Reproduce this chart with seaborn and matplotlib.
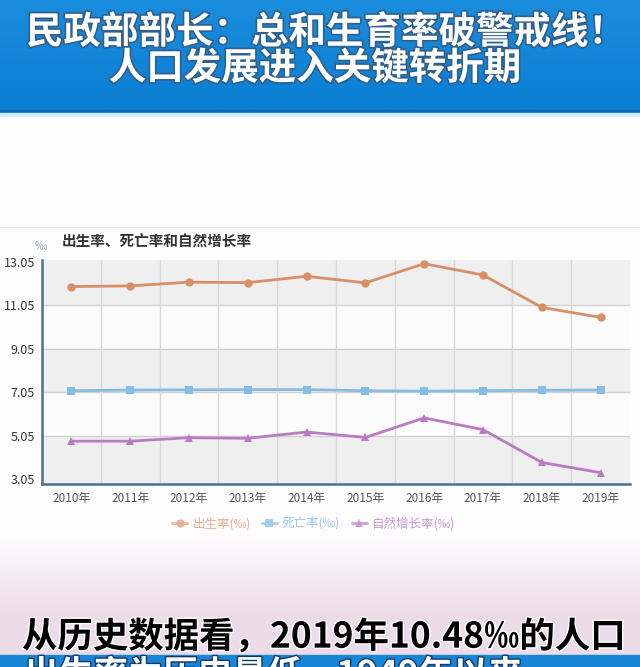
import numpy as np
import pandas as pd
import matplotlib
matplotlib.use("Agg")
import matplotlib.pyplot as plt
import seaborn as sns
from matplotlib import patheffects as pe
from matplotlib.colors import to_rgb

# ---------------- data ----------------
years = ["2010年", "2011年", "2012年", "2013年", "2014年",
         "2015年", "2016年", "2017年", "2018年", "2019年"]
birth_rate = [11.90, 11.93, 12.10, 12.08, 12.37, 12.07, 12.95, 12.43, 10.94, 10.48]
death_rate = [7.11, 7.14, 7.15, 7.16, 7.16, 7.11, 7.09, 7.11, 7.13, 7.14]
growth_rate = [4.79, 4.79, 4.95, 4.92, 5.21, 4.96, 5.86, 5.32, 3.81, 3.34]
series_names = ["出生率(‰)", "死亡率(‰)", "自然增长率(‰)"]
y_ticks = [3.05, 5.05, 7.05, 9.05, 11.05, 13.05]

header_line1 = "民政部部长：总和生育率破警戒线！"
header_line2 = "人口发展进入关键转折期"
chart_title = "出生率、死亡率和自然增长率"
unit_label = "‰"
caption = "从历史数据看，2019年10.48‰的人口"
caption2 = "出生率为历史最低，1949年以来"

sns.set_theme(style="white")
plt.rcParams["font.family"] = ["Noto Sans CJK SC", "DejaVu Sans"]

W, H = 640, 667
fig = plt.figure(figsize=(W / 100, H / 100), dpi=100)

def fy(py):
    return 1 - py / H

def fx(px):
    return px / W

# ---------------- background ----------------
bg = fig.add_axes([0, 0, 1, 1])
bg.set_xlim(0, W)
bg.set_ylim(H, 0)
bg.axis("off")
bg.set_zorder(-10)

bg.add_patch(plt.Rectangle((0, 0), W, H, color="#fefdfe", zorder=0))
top_c = np.array(to_rgb("#fefcfe"))
bot_c = np.array(to_rgb("#ecdce8"))
n = 200
t = np.clip(np.linspace(0, 1, n) * 1.5, 0, 1)[:, None]
grad = (top_c * (1 - t) + bot_c * t)[:, None, :]
bg.imshow(grad, extent=(0, W, 660, 535), aspect="auto", zorder=1, interpolation="bilinear")
h_top = np.array(to_rgb("#1a8ddd"))
h_bot = np.array(to_rgb("#0a7ed2"))
t2 = np.linspace(0, 1, 100)[:, None]
hgrad = (h_top * (1 - t2) + h_bot * t2)[:, None, :]
bg.imshow(hgrad, extent=(0, W, 110, 0), aspect="auto", zorder=2, interpolation="bilinear")
bg.add_patch(plt.Rectangle((0, 110), W, 3, color="#0b68b0", zorder=3))
bg.add_patch(plt.Rectangle((0, 113), W, 3, color="#c9eefa", zorder=3))
bg.plot([0, W], [227, 227], color="#e4e4e4", lw=1, zorder=3)
bg.add_patch(plt.Rectangle((0, 655), W, 12, color="#1786d6", zorder=3))

white_fx = [pe.withStroke(linewidth=2.4, foreground="#2f5f8c")]
bg.text(W / 2 + 6, 32, header_line1, color="white", fontsize=27, fontweight="bold",
        ha="center", va="center", path_effects=white_fx, zorder=5)
bg.text(W / 2 - 5, 68, header_line2, color="white", fontsize=27, fontweight="bold",
        ha="center", va="center", path_effects=white_fx, zorder=5)

bg.text(22, 637, caption, color="black", fontsize=25.5, fontweight="bold",
        ha="left", va="center", path_effects=[pe.withStroke(linewidth=2, foreground="white")],
        zorder=5)
bg.text(24, 675, caption2, color="white", fontsize=25, fontweight="bold",
        ha="left", va="center", path_effects=[pe.withStroke(linewidth=2, foreground="#123a66")],
        zorder=4)

bg.text(62, 242, chart_title, color="#333333", fontsize=10.5, fontweight="bold",
        ha="left", va="center", zorder=5)
bg.text(35, 246, unit_label, color="#8fa6bf", fontsize=9, ha="left", va="center", zorder=5)

# ---------------- chart ----------------
left, right, top, bottom = 42, 630, 260, 484
ax = fig.add_axes([fx(left), fy(bottom), fx(right - left), (bottom - top) / H])

ylo, yhi = 2.82, 13.12
ax.set_ylim(ylo, yhi)
ax.set_xlim(-0.5, len(years) - 0.5)

gray = "#efefef"
white = "#fbfbfb"
bands = [(ylo, 5.05, gray), (5.05, 7.05, white), (7.05, 9.05, gray),
         (9.05, 11.05, white), (11.05, yhi, gray)]
for a, b, c in bands:
    ax.axhspan(a, b, color=c, zorder=0, lw=0)
for yv in y_ticks[1:-1]:
    ax.axhline(yv, color="#d2d2d2", lw=1, zorder=1)
for xv in np.arange(0.5, len(years) - 0.5, 1):
    ax.axvline(xv, color="#d8d8d8", lw=1, zorder=1)

idx = list(range(len(years)))
df = pd.DataFrame({
    "x": idx * 3,
    "val": birth_rate + death_rate + growth_rate,
    "series": [series_names[0]] * 10 + [series_names[1]] * 10 + [series_names[2]] * 10,
})
palette = {series_names[0]: "#d98f66", series_names[1]: "#86bde3", series_names[2]: "#b97cc2"}
markers = {series_names[0]: "o", series_names[1]: "s", series_names[2]: "^"}
sns.lineplot(data=df, x="x", y="val", hue="series", style="series",
             markers=markers, dashes=False, palette=palette, ax=ax,
             linewidth=2, markersize=6, markeredgewidth=0, zorder=3, legend=True)

ax.set_xlabel("")
ax.set_ylabel("")
ax.set_xticks(idx)
ax.set_xticklabels(years, fontsize=8.5, color="#555555")
ax.set_xticks(np.arange(-0.5, len(years), 1), minor=True)
ax.tick_params(axis="x", which="major", length=0, pad=6)
ax.tick_params(axis="x", which="minor", length=5, width=1.5, color="#4f6f8f", direction="out")
ax.set_yticks(y_ticks)
ax.set_yticklabels([f"{v:.2f}" for v in y_ticks], fontsize=9, color="#333333")
ax.tick_params(axis="y", length=0, pad=5)

for s in ["top", "right"]:
    ax.spines[s].set_visible(False)
for s in ["left", "bottom"]:
    ax.spines[s].set_color("#4f6f8f")
    ax.spines[s].set_linewidth(1.8)

handles, labels = ax.get_legend_handles_labels()
ax.legend_.remove()
leg = ax.legend(handles, labels, loc="center", bbox_to_anchor=(0.49, fy(524)),
                bbox_transform=fig.transFigure, ncol=3, frameon=False, fontsize=9,
                handlelength=1.2, columnspacing=0.9, handletextpad=0.4)
leg_colors = ["#e6b094", "#9ccae9", "#c79acf"]
for txt, c in zip(leg.get_texts(), leg_colors):
    txt.set_color(c)
for h, c in zip(leg.legend_handles, leg_colors):
    h.set_color(c)
    h.set_alpha(0.9)

fig.savefig("out.png", dpi=100)
